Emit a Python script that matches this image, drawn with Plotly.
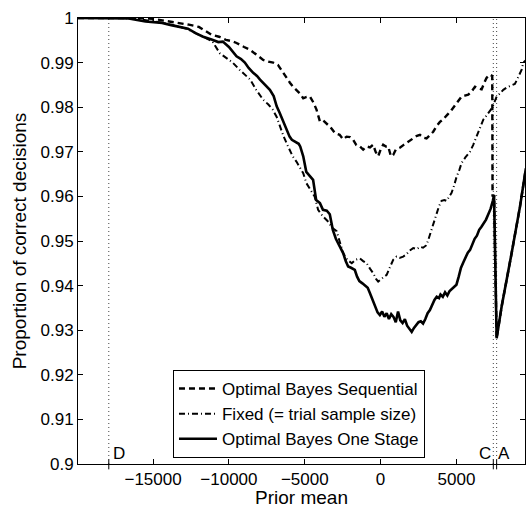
import plotly.graph_objects as go

# ---------------- data ----------------
seq_x = [-19950, -16000, -15000, -14100, -13770, -13200, -12640, -11980, -11500, -11130,
         -10650, -10200, -9800, -9500, -9000, -8620, -8200, -7740, -7400, -7080,
         -6770, -6440, -6200, -5980, -5750, -5540, -5300, -5100, -4880, -4660,
         -4420, -4220, -4000, -3780, -3560, -3300, -3010, -2700, -2470, -2240,
         -2020, -1810, -1600, -1365, -1150, -920, -700, -490, -330, -160,
         0, 170, 350, 500, 680, 830, 1000, 1270, 1500, 1715,
         1950, 2150, 2400, 2590, 2800, 3030, 3250, 3470, 3700, 3910,
         4100, 4240, 4450, 4680, 4850, 5010, 5200, 5340, 5550, 5780,
         6000, 6220, 6450, 6660, 6850, 6990, 7210, 7360, 7380, 7480,
         7650, 7980, 8640, 9190, 9580]
seq_y = [1.0, 1.0, 0.9998, 0.9993, 0.9992, 0.9989, 0.9985, 0.9980, 0.9970, 0.9962,
         0.9958, 0.9951, 0.9948, 0.9944, 0.9935, 0.9929, 0.9918, 0.9906, 0.9902, 0.9900,
         0.9895, 0.9877, 0.9865, 0.9855, 0.9845, 0.9839, 0.9830, 0.9820, 0.9823, 0.9824,
         0.9810, 0.9794, 0.9768, 0.9770, 0.9764, 0.9755, 0.9742, 0.9738, 0.9728, 0.9734,
         0.9733, 0.9727, 0.9715, 0.9712, 0.9705, 0.9712, 0.9710, 0.9716, 0.9700, 0.9690,
         0.9705, 0.9716, 0.9712, 0.9712, 0.9690, 0.9693, 0.9705, 0.9709, 0.9715, 0.9720,
         0.9725, 0.9730, 0.9736, 0.9738, 0.9732, 0.9730, 0.9737, 0.9745, 0.9758, 0.9767,
         0.9772, 0.9778, 0.9785, 0.9794, 0.9802, 0.9810, 0.9818, 0.9824, 0.9826, 0.9828,
         0.9835, 0.9846, 0.9842, 0.9840, 0.9856, 0.9866, 0.9873, 0.9870, 0.9600, 0.9603,
         0.9282, 0.9353, 0.9473, 0.9577, 0.9663]

fix_x = [-19950, -17000, -16000, -15000, -14400, -13800, -13300, -12700, -12200, -11700,
         -11100, -10600, -10200, -9750, -9300, -8950, -8600, -8200, -7750, -7400,
         -7100, -6850, -6650, -6400, -6100, -5800, -5550, -5300, -5100, -4900,
         -4600, -4350, -4120, -3800, -3500, -3200, -2900, -2700, -2470, -2200,
         -1900, -1650, -1370, -1150, -920, -700, -490, -300, -160, 50,
         250, 400, 600, 830, 1050, 1250, 1490, 1700, 1900, 2150,
         2400, 2600, 2800, 3000, 3120, 3360, 3550, 3700, 3850, 4020,
         4200, 4350, 4500, 4680, 4850, 5010, 5200, 5340, 5600, 5890,
         6100, 6330, 6550, 6770, 6950, 7100, 7280, 7430, 7550, 7650,
         7850, 8090, 8350, 8640, 8850, 8970, 9150, 9300, 9406, 9580]
fix_y = [1.0, 1.0, 0.9998, 0.9993, 0.9989, 0.9985, 0.9981, 0.9975, 0.9966, 0.9957,
         0.9948, 0.9921, 0.9912, 0.9900, 0.9884, 0.9874, 0.9862, 0.9839, 0.9817, 0.9806,
         0.9794, 0.9778, 0.9757, 0.9735, 0.9712, 0.9690, 0.9678, 0.9665, 0.9652, 0.9630,
         0.9612, 0.9600, 0.9570, 0.9555, 0.9545, 0.9530, 0.9522, 0.9500, 0.9473, 0.9458,
         0.9450, 0.9458, 0.9461, 0.9455, 0.9450, 0.9438, 0.9428, 0.9415, 0.9409, 0.9415,
         0.9420, 0.9424, 0.9440, 0.9458, 0.9465, 0.9462, 0.9465, 0.9470, 0.9478, 0.9484,
         0.9482, 0.9487, 0.9485, 0.9490, 0.9500, 0.9525, 0.9548, 0.9562, 0.9578, 0.9590,
         0.9592, 0.9590, 0.9598, 0.9608, 0.9625, 0.9644, 0.9660, 0.9675, 0.9688, 0.9700,
         0.9715, 0.9734, 0.9755, 0.9772, 0.9780, 0.9787, 0.9795, 0.9805, 0.9815, 0.9824,
         0.9830, 0.9839, 0.9845, 0.9850, 0.9852, 0.9860, 0.9872, 0.9884, 0.9900, 0.9905]

one_x = [-19950, -18000, -16600, -15500, -14400, -13800, -13300, -12700, -12200, -11700,
         -11100, -10700, -10400, -10000, -9500, -9200, -8950, -8700, -8400, -8150,
         -7950, -7650, -7300, -7050, -6850, -6650, -6400, -6200, -6000, -5850,
         -5600, -5400, -5300, -5100, -4900, -4700, -4450, -4250, -4000, -3800,
         -3550, -3350, -3150, -2950, -2800, -2650, -2470, -2300, -2140, -1950,
         -1700, -1550, -1400, -1200, -1000, -850, -700, -550, -380, -200,
         -50, 100, 250, 400, 550, 700, 850, 1000, 1150, 1300,
         1450, 1600, 1750, 1900, 2050, 2200, 2350, 2500, 2650, 2800,
         2950, 3100, 3250, 3400, 3550, 3700, 3850, 3950, 4100, 4250,
         4400, 4550, 4700, 4850, 5000, 5150, 5300, 5450, 5600, 5750,
         5900, 6050, 6200, 6350, 6500, 6650, 6800, 6950, 7100, 7250,
         7400, 7480, 7650, 7980, 8640, 9190, 9580]
one_y = [1.0, 1.0, 0.9999, 0.9992, 0.9989, 0.9984, 0.9981, 0.9976, 0.9966, 0.9958,
         0.9951, 0.9946, 0.9947, 0.9935, 0.9914, 0.9908, 0.9900, 0.9888, 0.9877, 0.9870,
         0.9862, 0.9852, 0.9839, 0.9825, 0.9802, 0.9787, 0.9768, 0.9750, 0.9734, 0.9727,
         0.9722, 0.9718, 0.9712, 0.9690, 0.9655, 0.9648, 0.9637, 0.9592, 0.9585, 0.9570,
         0.9568, 0.9560, 0.9525, 0.9505, 0.9495, 0.9488, 0.9473, 0.9455, 0.9443, 0.9440,
         0.9435, 0.9420, 0.9410, 0.9405, 0.9398, 0.9395, 0.9383, 0.9370, 0.9353, 0.9340,
         0.9334, 0.9342, 0.9330, 0.9338, 0.9325, 0.9336, 0.9330, 0.9318, 0.9342, 0.9322,
         0.9316, 0.9325, 0.9310, 0.9302, 0.9296, 0.9305, 0.9312, 0.9318, 0.9320, 0.9315,
         0.9325, 0.9338, 0.9345, 0.9358, 0.9368, 0.9375, 0.9372, 0.9380, 0.9375, 0.9385,
         0.9378, 0.9388, 0.9392, 0.9398, 0.9402, 0.9420, 0.9440, 0.9452, 0.9462, 0.9474,
         0.9480, 0.9492, 0.9505, 0.9512, 0.9525, 0.9532, 0.9540, 0.9548, 0.9560, 0.9572,
         0.9590, 0.9603, 0.9282, 0.9353, 0.9473, 0.9577, 0.9663]

series_names = ["Optimal Bayes Sequential", "Fixed (= trial sample size)", "Optimal Bayes One Stage"]

x_tickvals = [-15000, -10000, -5000, 0, 5000]
x_ticktext = ["\u221215000", "\u221210000", "\u22125000", "0", "5000"]
y_tickvals = [0.9, 0.91, 0.92, 0.93, 0.94, 0.95, 0.96, 0.97, 0.98, 0.99, 1.0]
y_ticktext = ["0.9", "0.91", "0.92", "0.93", "0.94", "0.95", "0.96", "0.97", "0.98", "0.99", "1"]

marker_names = ["D", "C", "A"]
marker_x = [-17920, 7430, 7650]

FONT = "Liberation Sans, Arial, Helvetica, sans-serif"

fig = go.Figure()
fig.add_trace(go.Scatter(x=seq_x, y=seq_y, mode="lines", name=series_names[0],
                         line=dict(color="black", width=2.4, dash="6px,4px")))
fig.add_trace(go.Scatter(x=fix_x, y=fix_y, mode="lines", name=series_names[1],
                         line=dict(color="black", width=2.0, dash="6px,3px,1px,3px")))
fig.add_trace(go.Scatter(x=one_x, y=one_y, mode="lines", name=series_names[2],
                         line=dict(color="black", width=2.6)))

shapes = []
for mx in marker_x:
    shapes.append(dict(type="line", xref="x", yref="paper", x0=mx, x1=mx, y0=0, y1=1,
                       line=dict(color="#444", width=1, dash="1px,3px"), layer="below"))
    shapes.append(dict(type="line", xref="x", yref="paper", x0=mx, x1=mx, y0=-0.012, y1=0.01,
                       line=dict(color="black", width=1)))
fig.update_layout(shapes=shapes)

anns = [
    dict(x=marker_x[0] + 150, y=0.9023, text=marker_names[0], xanchor="left"),
    dict(x=marker_x[1] - 20, y=0.9023, text=marker_names[1], xanchor="right"),
    dict(x=marker_x[2] - 10, y=0.9023, text=marker_names[2], xanchor="left"),
]
for a in anns:
    fig.add_annotation(x=a["x"], y=a["y"], text=a["text"], xanchor=a["xanchor"], yanchor="middle",
                       showarrow=False, font=dict(family=FONT, size=17, color="black"))

fig.update_layout(
    width=526, height=508,
    margin=dict(l=78, r=1, t=18, b=44, autoexpand=False),
    paper_bgcolor="white", plot_bgcolor="white",
    font=dict(family=FONT, size=17, color="black"),
    showlegend=True,
    legend=dict(x=0.2125, y=0.0135, xanchor="left", yanchor="bottom",
                bgcolor="white", bordercolor="black", borderwidth=1,
                font=dict(family=FONT, size=17, color="black"),
                tracegroupgap=0, itemwidth=38),
    xaxis=dict(range=[-19950, 9520], tickvals=x_tickvals, ticktext=x_ticktext,
               ticks="inside", ticklen=5, tickwidth=1, tickcolor="black",
               showline=True, linecolor="black", linewidth=1, mirror="ticks",
               showgrid=False, zeroline=False, automargin=True,
               title=dict(text="Prior mean", font=dict(family=FONT, size=19), standoff=3)),
    yaxis=dict(range=[0.9, 1.0], tickvals=y_tickvals, ticktext=y_ticktext,
               ticks="inside", ticklen=5, tickwidth=1, tickcolor="black",
               showline=True, linecolor="black", linewidth=1, mirror="ticks",
               showgrid=False, zeroline=False, automargin=False,
               title=dict(text="Proportion of correct decisions", font=dict(family=FONT, size=19), standoff=8)),
)

fig.write_html("out.html",
               config={"displayModeBar": False},
               post_script="document.body.style.margin='0px';document.body.style.overflow='hidden';")
